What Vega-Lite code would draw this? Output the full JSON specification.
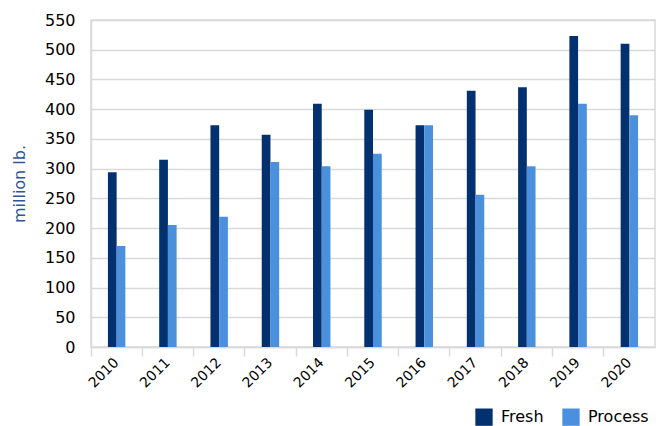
{
  "$schema": "https://vega.github.io/schema/vega-lite/v6.json",
  "width": 564,
  "height": 327,
  "autosize": "none",
  "padding": {"left": 91, "top": 20, "right": 7, "bottom": 79},
  "config": {
    "font": "DejaVu Sans",
    "view": {"stroke": "#d9d9d9", "strokeWidth": 1.5}
  },
  "data": {
    "values": [
      {"year": "2010", "type": "Fresh", "value": 294},
      {"year": "2010", "type": "Process", "value": 170},
      {"year": "2011", "type": "Fresh", "value": 315},
      {"year": "2011", "type": "Process", "value": 205},
      {"year": "2012", "type": "Fresh", "value": 373},
      {"year": "2012", "type": "Process", "value": 219},
      {"year": "2013", "type": "Fresh", "value": 357},
      {"year": "2013", "type": "Process", "value": 311},
      {"year": "2014", "type": "Fresh", "value": 409},
      {"year": "2014", "type": "Process", "value": 304},
      {"year": "2015", "type": "Fresh", "value": 399},
      {"year": "2015", "type": "Process", "value": 325},
      {"year": "2016", "type": "Fresh", "value": 373},
      {"year": "2016", "type": "Process", "value": 373},
      {"year": "2017", "type": "Fresh", "value": 431},
      {"year": "2017", "type": "Process", "value": 256},
      {"year": "2018", "type": "Fresh", "value": 437},
      {"year": "2018", "type": "Process", "value": 304},
      {"year": "2019", "type": "Fresh", "value": 523},
      {"year": "2019", "type": "Process", "value": 409},
      {"year": "2020", "type": "Fresh", "value": 510},
      {"year": "2020", "type": "Process", "value": 390}
    ]
  },
  "mark": {"type": "bar"},
  "encoding": {
    "x": {
      "field": "year",
      "type": "nominal",
      "scale": {"paddingInner": 0.66, "paddingOuter": 0.33},
      "axis": {
        "title": null,
        "bandPosition": -0.970588,
        "labelAngle": -45,
        "labelAlign": "right",
        "labelBaseline": "middle",
        "labelFontSize": 14,
        "labelColor": "#000000",
        "labelPadding": 4,
        "tickColor": "#d9d9d9",
        "tickWidth": 1.5,
        "tickSize": 9,
        "domainColor": "#d9d9d9",
        "domainWidth": 1.5,
        "grid": false
      }
    },
    "xOffset": {
      "field": "type",
      "type": "nominal",
      "scale": {"paddingInner": 0, "paddingOuter": 0}
    },
    "y": {
      "field": "value",
      "type": "quantitative",
      "scale": {"domain": [0, 550], "nice": false},
      "axis": {
        "title": "million lb.",
        "titleColor": "#2f5597",
        "titleFontSize": 16,
        "titleFontWeight": "normal",
        "titlePadding": 17,
        "values": [0, 50, 100, 150, 200, 250, 300, 350, 400, 450, 500, 550],
        "labelFontSize": 16,
        "labelColor": "#000000",
        "labelPadding": 16,
        "ticks": false,
        "domainColor": "#d9d9d9",
        "domainWidth": 1.5,
        "gridColor": "#d9d9d9",
        "gridWidth": 1.5
      }
    },
    "color": {
      "field": "type",
      "type": "nominal",
      "scale": {"domain": ["Fresh", "Process"], "range": ["#03306f", "#4a90dc"]},
      "legend": {
        "title": null,
        "orient": "none",
        "direction": "horizontal",
        "legendX": 384,
        "legendY": 388,
        "symbolType": "square",
        "symbolSize": 300,
        "symbolStrokeWidth": 0,
        "labelFontSize": 16,
        "labelColor": "#000000",
        "columnPadding": 18,
        "labelOffset": 8
      }
    }
  }
}
